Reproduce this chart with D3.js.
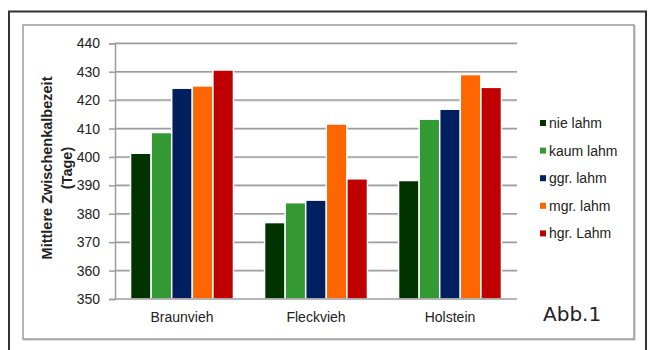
<!DOCTYPE html>
<html>
<head>
<meta charset="utf-8">
<script src="https://cdn.jsdelivr.net/npm/d3@7"></script>
<style>
html,body{margin:0;padding:0;background:#fff;}
svg{display:block;font-family:"Liberation Sans",Arial,sans-serif;}
</style>
</head>
<body>
<svg id="chart" width="648" height="350"></svg>
<script>
const categories = ["Braunvieh", "Fleckvieh", "Holstein"];
const seriesNames = ["nie lahm", "kaum lahm", "ggr. lahm", "mgr. lahm", "hgr. Lahm"];
const nieLahm  = [401.3, 376.9, 391.7];
const kaumLahm = [408.6, 383.9, 413.3];
const ggrLahm  = [424.2, 384.8, 416.8];
const mgrLahm  = [425.0, 411.6, 429.0];
const hgrLahm  = [430.6, 392.3, 424.5];
const colors = ["#003300", "#339933", "#001f5f", "#ff6600", "#c00000"];
const yTicks = [350, 360, 370, 380, 390, 400, 410, 420, 430, 440];
const yTitle = ["Mittlere Zwischenkalbezeit", "(Tage)"];
const figLabel = "Abb.1";

const seriesValues = [nieLahm, kaumLahm, ggrLahm, mgrLahm, hgrLahm];

const svg = d3.select("#chart");

// outer frame
svg.append("rect").attr("x", 9).attr("y", 11.5).attr("width", 637).attr("height", 360)
  .attr("fill", "#fff").attr("stroke", "#333").attr("stroke-width", 2);
// inner frame (with slight shadow)
svg.append("rect").attr("x", 24).attr("y", 26).attr("width", 611).attr("height", 314)
  .attr("fill", "none").attr("stroke", "#d0d0d0").attr("stroke-width", 1.5);
svg.append("rect").attr("x", 23).attr("y", 25).attr("width", 611).attr("height", 314)
  .attr("fill", "#fff").attr("stroke", "#9a9a9a").attr("stroke-width", 1.5);

const x0 = d3.scaleBand().domain(categories).range([115, 517]).paddingInner(0.232).paddingOuter(0.116);
const x1 = d3.scaleBand().domain(seriesNames).range([0, x0.bandwidth()]).padding(0);
const y = d3.scaleLinear().domain([350, 440]).range([299, 43.3]);

// gridlines
const grid = svg.append("g");
grid.selectAll("line.sh").data(yTicks.slice(1)).join("line")
  .attr("x1", 115).attr("x2", 517).attr("y1", d => y(d) + 1).attr("y2", d => y(d) + 1)
  .attr("stroke", "#dcdcdc").attr("stroke-width", 1);
grid.selectAll("line.g").data(yTicks.slice(1)).join("line")
  .attr("x1", 115).attr("x2", 517).attr("y1", d => y(d)).attr("y2", d => y(d))
  .attr("stroke", "#9c9c9c").attr("stroke-width", 1.5);

// bars
const groups = svg.append("g").selectAll("g").data(categories).join("g")
  .attr("transform", d => `translate(${x0(d)},0)`);
groups.selectAll("rect").data((c, ci) => seriesNames.map((s, si) => ({s, si, v: seriesValues[si][ci]})))
  .join("rect")
  .attr("x", d => x1(d.s))
  .attr("y", d => y(d.v))
  .attr("width", x1.bandwidth())
  .attr("height", d => y(350) - y(d.v))
  .attr("fill", d => colors[d.si])
  .attr("stroke", "#fff").attr("stroke-width", 1.5);

// axes
const yAxis = d3.axisLeft(y).tickValues(yTicks).tickSize(6).tickPadding(9);
const gy = svg.append("g").attr("transform", "translate(115,0)").call(yAxis);
gy.select(".domain").attr("stroke", "#9c9c9c").attr("stroke-width", 1.5);
gy.selectAll(".tick line").attr("stroke", "#9c9c9c").attr("stroke-width", 1.5);
gy.selectAll(".tick text").attr("font-size", 14).attr("fill", "#222")
  .attr("font-family", "'Liberation Sans', Arial, sans-serif");

const xAxis = d3.axisBottom(x0).tickSize(0).tickPadding(13);
const gx = svg.append("g").attr("transform", "translate(0,299)").call(xAxis);
gx.select(".domain").attr("stroke", "#9c9c9c").attr("stroke-width", 1.5).attr("d", "M115,0H517");
gx.selectAll(".tick text").attr("font-size", 14).attr("fill", "#222")
  .attr("font-family", "'Liberation Sans', Arial, sans-serif");

// y title
const t = svg.append("text").attr("transform", "translate(47,168) rotate(-90)")
  .attr("text-anchor", "middle").attr("font-weight", "bold").attr("font-size", 14.5).attr("fill", "#222");
t.append("tspan").attr("x", 0).attr("dy", "0.35em").text(yTitle[0]);
t.append("tspan").attr("x", 0).attr("dy", "1.35em").text(yTitle[1]);

// legend
const legend = svg.append("g").selectAll("g").data(seriesNames).join("g")
  .attr("transform", (d, i) => `translate(540,${123 + i * 27.6})`);
legend.append("rect").attr("x", 0).attr("y", -3).attr("width", 6).attr("height", 6)
  .attr("fill", (d, i) => colors[i]);
legend.append("text").attr("x", 9).attr("dy", "0.35em").attr("font-size", 14).attr("fill", "#222").text(d => d);

// figure label
svg.append("text").attr("x", 543).attr("y", 321).attr("font-size", 20)
  .attr("font-family", "'DejaVu Sans', Verdana, sans-serif").attr("fill", "#222").text(figLabel);
</script>
</body>
</html>
